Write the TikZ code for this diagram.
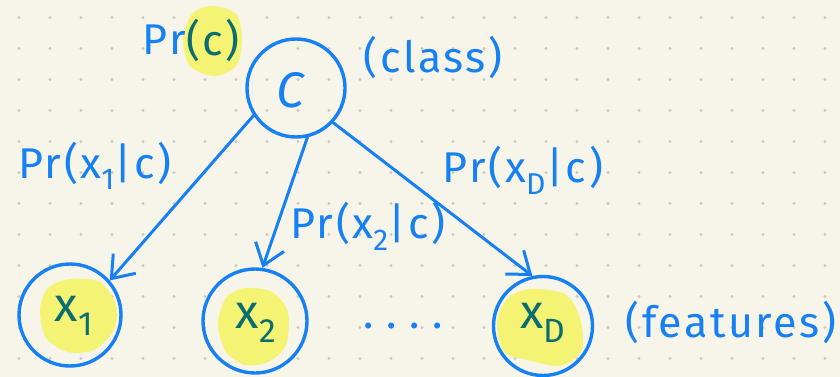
\documentclass[tikz,border=0pt]{standalone}
\usepackage{fontspec}
\setmainfont{Fira Sans}[LetterSpace=6]
\usetikzlibrary{arrows.meta}
\definecolor{paper}{RGB}{247,245,233}
\definecolor{griddot}{RGB}{200,200,196}
\definecolor{ink}{RGB}{22,128,245}
\definecolor{hilite}{RGB}{245,243,116}
\definecolor{inkhl}{RGB}{10,110,112}
\tikzset{
  hand/.style={font=\fontsize{43}{48}\selectfont, text=ink, inner sep=0pt},
  handhl/.style={hand, text=inkhl},
  var/.style={draw=ink, line width=3.4pt, circle, inner sep=0pt},
  edge/.style={draw=ink, line width=3pt, line cap=round,
    -{Straight Barb[length=20pt, width=30pt, line width=3pt]}},
  blob/.style={fill=hilite, draw=none},
}
\begin{document}
\begin{tikzpicture}[x=1pt, y=-1pt]
  % paper and dot grid
  \fill[paper] (0,0) rectangle (840,377);
  \useasboundingbox (0,0) rectangle (840,377);
  \foreach \i in {0,...,26} {
    \foreach \j in {0,...,11} {
      \fill[griddot] (19+31*\i, 17.5+31*\j) circle (1.6pt);
    }
  }

  % highlighter blobs
  \fill[blob] plot[smooth cycle] coordinates {(212,6) (236,14) (242,40) (236,66) (214,76) (190,66) (183,40) (192,14)};
  \fill[blob] plot[smooth cycle] coordinates {(70,279) (100,282) (116,305) (114,330) (94,350) (68,352) (46,338) (40,310) (48,288)};
  \fill[blob] plot[smooth cycle] coordinates {(245,288) (272,292) (288,312) (286,345) (268,362) (245,365) (226,352) (218,325) (226,298)};
  \fill[blob] plot[smooth cycle] coordinates {(530,289) (565,294) (580,318) (582,350) (560,366) (528,360) (504,352) (497,322) (508,298)};

  % nodes
  \node[var, minimum size=98pt] (C) at (296,88) {};
  \node[hand, font=\fontsize{50}{54}\selectfont\itshape] (Clab) at (290,90) {C};
  \node[var, minimum size=102pt] (x1) at (70,315) {};
  \node[handhl, font=\fontsize{48}{52}\selectfont] (x1lab) at (74,316) {x\textsubscript{1}};
  \node[var, minimum size=104pt] (x2) at (255,321) {};
  \node[handhl, font=\fontsize{48}{52}\selectfont] (x2lab) at (256,323) {x\textsubscript{2}};
  \node[var, minimum size=99pt] (xD) at (543,326) {};
  \node[handhl, font=\fontsize{48}{52}\selectfont] (xDlab) at (543,323) {x\textsubscript{D}};

  % edges
  \draw[edge] (C.213) -- (x1.41);
  \draw[edge] (C.283) -- (x2.82);
  \draw[edge] (C.317) -- (xD.102);

  % labels
  \node[hand, anchor=east] (prc) at (186,40) {Pr};
  \node[handhl, anchor=west] (prcb) at (186,40) {(c)};
  \node[hand] (cls) at (433,57) {(class)};
  \node[hand] (p1) at (95,166) {Pr(x\textsubscript{1}|c)};
  \node[hand] (p2) at (368,226) {Pr(x\textsubscript{2}|c)};
  \node[hand] (pD) at (523,170) {Pr(x\textsubscript{D}|c)};
  \node[hand, font=\fontsize{43}{48}\selectfont\addfontfeature{LetterSpace=30}] (dots) at (403,326) {....};
  \node[hand] (feat) at (731,322) {(features)};
\end{tikzpicture}
\end{document}
